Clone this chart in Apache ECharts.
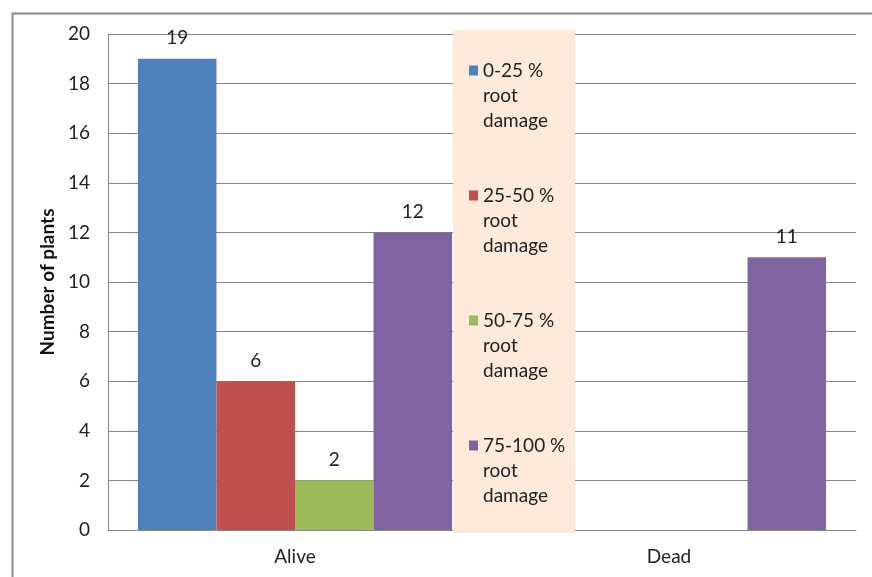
<!DOCTYPE html>
<html>
<head>
<meta charset="utf-8">
<script src="https://cdn.jsdelivr.net/npm/echarts@6/dist/echarts.min.js"></script>
<style>html,body{margin:0;padding:0;background:#fff;}#c{width:872px;height:577px;}</style>
</head>
<body>
<div id="c"></div>
<script>
var categories = ['Alive', 'Dead'];
var seriesNames = ['0-25 % root damage', '25-50 % root damage', '50-75 % root damage', '75-100 % root damage'];
var s0to25 = [19, null];
var s25to50 = [6, null];
var s50to75 = [2, null];
var s75to100 = [12, 11];
var yTicks = [0, 2, 4, 6, 8, 10, 12, 14, 16, 18, 20];

var colors = ['#4F81BD', '#C0504D', '#9BBB59', '#8064A2'];
var seriesData = [s0to25, s25to50, s50to75, s75to100];
var FONT = 'Lato, "Open Sans", sans-serif';
var FS = 19;

var chart = echarts.init(document.getElementById('c'), null, {renderer: 'canvas'});
var option = {
  animation: false,
  backgroundColor: '#fff',
  textStyle: {fontFamily: FONT},
  grid: {left: 108, right: 16, top: 34, bottom: 47},
  graphic: [
    {type: 'rect', left: 10, top: 11, z: 0, silent: true,
     shape: {x: 0, y: 0, width: 900, height: 600},
     style: {fill: 'none', stroke: '#8a8a8a', lineWidth: 2}},
    {type: 'rect', left: 453, top: 30, z: 50, silent: true,
     shape: {x: 0, y: 0, width: 122, height: 503},
     style: {fill: '#FDEADA'}}
  ],
  legend: {
    orient: 'vertical',
    left: 469,
    top: 8,
    padding: 0,
    z: 60,
    itemWidth: 9,
    itemHeight: 10,
    itemGap: 0,
    selectedMode: false,
    icon: 'rect',
    data: seriesNames,
    formatter: function (n) { return '\n\n' + n.replace(' root ', '\nroot\n'); },
    textStyle: {fontFamily: FONT, fontSize: FS, color: '#222', lineHeight: 25}
  },
  xAxis: {
    type: 'category',
    data: categories,
    axisLine: {show: true, lineStyle: {color: '#868686', width: 1}},
    axisTick: {show: false},
    axisLabel: {fontFamily: FONT, fontSize: FS, color: '#222', margin: 17}
  },
  yAxis: {
    type: 'value',
    min: 0, max: 20, interval: 2,
    name: 'Number of plants',
    nameLocation: 'middle',
    nameGap: 49,
    nameRotate: 90,
    nameTextStyle: {fontFamily: FONT, fontSize: 19, fontWeight: 'bold', color: '#111'},
    axisLine: {show: true, lineStyle: {color: '#868686', width: 1}},
    axisTick: {show: false},
    axisLabel: {fontFamily: FONT, fontSize: FS, color: '#222', margin: 18,
      formatter: function (v) { return yTicks.indexOf(v) >= 0 ? String(v) : ''; }},
    splitLine: {show: true, lineStyle: {color: '#868686', width: 1}}
  },
  series: seriesNames.map(function (name, i) {
    return {
      name: name,
      type: 'bar',
      data: seriesData[i],
      barGap: '0%',
      barCategoryGap: '16%',
      itemStyle: {color: colors[i]},
      label: {show: true, position: 'top', distance: 11, fontFamily: FONT, fontSize: FS, color: '#222'}
    };
  })
};
chart.setOption(option);
</script>
</body>
</html>
